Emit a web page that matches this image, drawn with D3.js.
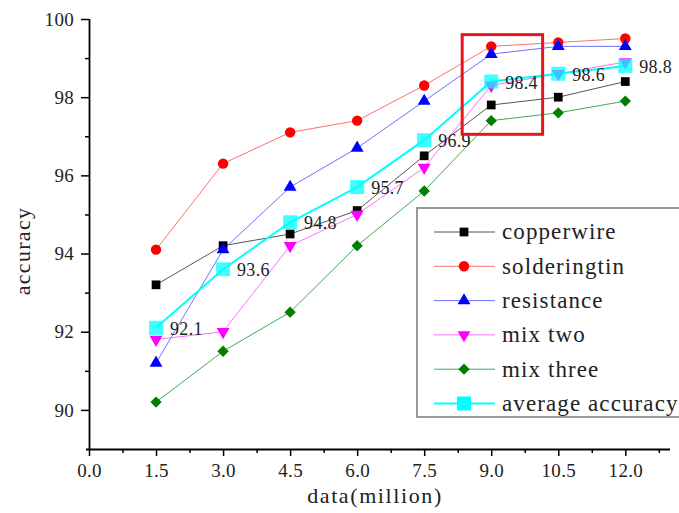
<!DOCTYPE html>
<html>
<head>
<meta charset="utf-8">
<script src="https://cdn.jsdelivr.net/npm/d3@7"></script>
<style>
  body { margin: 0; background: #fff; }
  svg { display: block; }
  svg text { font-family: "Liberation Serif", "Times New Roman", "DejaVu Serif", serif; }
</style>
</head>
<body>
<svg width="679" height="513"></svg>
<script>
// x 轴：数据量（百万）
var dataSize = [1.5, 3.0, 4.5, 6.0, 7.5, 9.0, 10.5, 12.0];

// 各类别的准确率
var copperwire   = [93.2, 94.2, 94.5, 95.1, 96.5, 97.8, 98.0, 98.4];
var solderingtin = [94.1, 96.3, 97.1, 97.4, 98.3, 99.3, 99.4, 99.5];
var resistance   = [91.2, 94.1, 95.7, 96.7, 97.9, 99.1, 99.3, 99.3];
var mixTwo       = [91.8, 92.0, 94.2, 95.0, 96.2, 98.3, 98.6, 98.9];
var mixThree     = [90.2, 91.5, 92.5, 94.2, 95.6, 97.4, 97.6, 97.9];
var avgAccuracy  = [92.1, 93.6, 94.8, 95.7, 96.9, 98.4, 98.6, 98.8];

var seriesNames = ["copperwire", "solderingtin", "resistance", "mix two", "mix three", "average accuracy"];

// 刻度
var xTicks = [0, 1.5, 3.0, 4.5, 6.0, 7.5, 9.0, 10.5, 12.0];
var xMinorTicks = [0.75, 2.25, 3.75, 5.25, 6.75, 8.25, 9.75, 11.25, 12.75];
var yTicks = [90, 92, 94, 96, 98, 100];
var yMinorTicks = [91, 93, 95, 97, 99];

// 红框标出的区域（数据坐标）
var highlightX = [8.35, 10.15];
var highlightY = [97.05, 99.6];

var svg = d3.select("svg");

var x = d3.scaleLinear().domain([0, 13]).range([89, 670]);
var y = d3.scaleLinear().domain([89, 100]).range([449, 19]);

// 每个系列的样式
var styles = [
  { line: "#555555", fill: "#000000", symbol: d3.symbolSquare, size: 76, rotate: 0, width: 1 },
  { line: "#ff7070", fill: "#ff0000", symbol: d3.symbolCircle, size: 85, rotate: 0, width: 1 },
  { line: "#7070ff", fill: "#0000ff", symbol: d3.symbolTriangle, size: 72, rotate: 0, width: 1 },
  { line: "#ff70ff", fill: "#ff00ff", symbol: d3.symbolTriangle, size: 72, rotate: 180, width: 1 },
  { line: "#3caa5a", fill: "#007f00", symbol: d3.symbolSquare, size: 64, rotate: 45, width: 1 },
  { line: "#00ffff", fill: "#00ffff", symbol: d3.symbolSquare, size: 196, rotate: 0, width: 2, opacity: 0.75 }
];

var allSeries = [copperwire, solderingtin, resistance, mixTwo, mixThree, avgAccuracy];

var series = allSeries.map(function(vals, i) {
  return {
    name: seriesNames[i],
    style: styles[i],
    values: vals.map(function(v, j) { return { x: dataSize[j], y: v }; })
  };
});

// 坐标轴
var xAxis = svg.append("g")
  .attr("transform", "translate(0," + y(89) + ")")
  .call(d3.axisBottom(x).tickValues(xTicks).tickFormat(d3.format(".1f"))
    .tickSize(7).tickSizeOuter(0).tickPadding(8));
svg.append("g")
  .attr("transform", "translate(0," + y(89) + ")")
  .call(d3.axisBottom(x).tickValues(xMinorTicks).tickFormat("").tickSize(4).tickSizeOuter(0))
  .select(".domain").remove();

var yAxis = svg.append("g")
  .attr("transform", "translate(" + x(0) + ",0)")
  .call(d3.axisLeft(y).tickValues(yTicks).tickFormat(d3.format("d"))
    .tickSize(8).tickSizeOuter(0).tickPadding(7));
svg.append("g")
  .attr("transform", "translate(" + x(0) + ",0)")
  .call(d3.axisLeft(y).tickValues(yMinorTicks).tickFormat("").tickSize(4).tickSizeOuter(0))
  .select(".domain").remove();

svg.selectAll("g").attr("font-family", null);
svg.selectAll(".domain").attr("stroke-width", 1.8);
xAxis.select(".domain").attr("d", "M86,0.5H670");
yAxis.select(".domain").attr("d", "M0.5," + y(89) + "V" + y(100));
svg.selectAll(".tick line").attr("stroke-width", 1.5);
svg.selectAll(".tick text").attr("font-size", 19).attr("letter-spacing", 0.3).attr("fill", "#222");

// 轴标题
svg.append("text")
  .attr("x", 375).attr("y", 503)
  .attr("text-anchor", "middle")
  .attr("font-size", 22)
  .attr("letter-spacing", 1.6)
  .attr("fill", "#222")
  .text("data(million)");

svg.append("text")
  .attr("transform", "translate(30,251) rotate(-90)")
  .attr("text-anchor", "middle")
  .attr("font-size", 22)
  .attr("letter-spacing", 1.3)
  .attr("fill", "#222")
  .text("accuracy");

// 折线
var line = d3.line()
  .x(function(d) { return x(d.x); })
  .y(function(d) { return y(d.y); });

svg.append("g").selectAll("path")
  .data(series)
  .enter().append("path")
  .attr("fill", "none")
  .attr("stroke", function(d) { return d.style.line; })
  .attr("stroke-width", function(d) { return d.style.width; })
  .attr("d", function(d) { return line(d.values); });

// 标记点
series.forEach(function(s) {
  svg.append("g").selectAll("path")
    .data(s.values)
    .enter().append("path")
    .attr("d", d3.symbol().type(s.style.symbol).size(s.style.size))
    .attr("transform", function(d) {
      return "translate(" + x(d.x) + "," + y(d.y) + ") rotate(" + s.style.rotate + ")";
    })
    .attr("fill", s.style.fill)
    .attr("fill-opacity", s.style.opacity || 1);
});

// 平均准确率数值标签
svg.append("g").selectAll("text")
  .data(series[5].values)
  .enter().append("text")
  .attr("x", function(d) { return x(d.x) + 14; })
  .attr("y", function(d) { return y(d.y) + 7; })
  .attr("font-size", 18)
  .attr("letter-spacing", 0.3)
  .attr("fill", "#222")
  .text(function(d) { return d.y.toFixed(1); });

// 红框
svg.append("rect")
  .attr("x", x(highlightX[0]))
  .attr("y", y(highlightY[1]))
  .attr("width", x(highlightX[1]) - x(highlightX[0]))
  .attr("height", y(highlightY[0]) - y(highlightY[1]))
  .attr("fill", "none")
  .attr("stroke", "#e8161b")
  .attr("stroke-width", 3);

// 图例
var legend = svg.append("g").attr("transform", "translate(417,208)");
legend.append("rect")
  .attr("x", 0).attr("y", 0)
  .attr("width", 280).attr("height", 209)
  .attr("fill", "#fff")
  .attr("stroke", "#7a7a7a")
  .attr("stroke-width", 1.5);

var item = legend.selectAll(".item")
  .data(series)
  .enter().append("g")
  .attr("transform", function(d, i) { return "translate(0," + (24 + i * 34.3) + ")"; });

item.append("line")
  .attr("x1", 17).attr("x2", 78)
  .attr("stroke", function(d) { return d.style.line; })
  .attr("stroke-width", function(d) { return d.style.width; });

item.append("path")
  .attr("d", function(d) { return d3.symbol().type(d.style.symbol).size(d.style.size)(); })
  .attr("transform", function(d) { return "translate(47,0) rotate(" + d.style.rotate + ")"; })
  .attr("fill", function(d) { return d.style.fill; });

item.append("text")
  .attr("x", 85).attr("dy", "0.32em")
  .attr("font-size", 23)
  .attr("letter-spacing", 1.1)
  .attr("fill", "#222")
  .text(function(d) { return d.name; });
</script>
</body>
</html>
